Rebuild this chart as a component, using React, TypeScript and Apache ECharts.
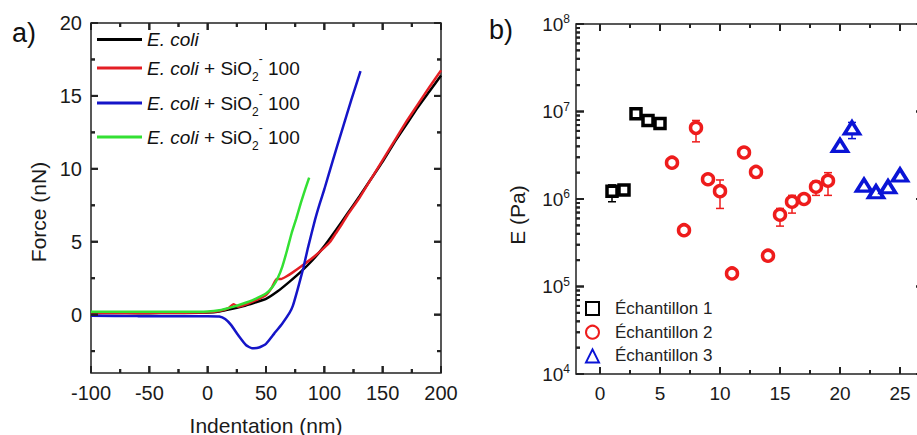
import React, { useEffect, useRef } from "react";
import * as echarts from "echarts";

// ---------- Panel a: force curves ----------
const ecoliX = [-100, -80, -60, -40, -20, 0, 10, 20, 30, 40, 50, 60, 70, 80, 90, 100, 110, 120, 130, 140, 150, 160, 170, 180, 190, 200];
const ecoliF = [0.1, 0.12, 0.1, 0.11, 0.12, 0.15, 0.22, 0.38, 0.58, 0.82, 1.08, 1.6, 2.25, 2.95, 3.75, 4.7, 5.8, 6.95, 8.1, 9.3, 10.5, 11.8, 13.0, 14.2, 15.3, 16.4];

const redX = [-100, -60, -20, 0, 10, 18, 22, 26, 30, 40, 50, 55, 59, 63, 67, 72, 80, 90, 100, 105, 110, 115, 120, 130, 140, 150, 160, 170, 180, 190, 200];
const redF = [0.12, 0.12, 0.13, 0.16, 0.25, 0.45, 0.72, 0.55, 0.62, 0.95, 1.35, 1.85, 2.45, 2.45, 2.6, 2.85, 3.3, 3.9, 4.6, 5.0, 5.6, 6.2, 6.85, 8.0, 9.3, 10.6, 11.9, 13.2, 14.4, 15.6, 16.75];

const blueX = [-100, -60, -20, 0, 10, 15, 20, 27, 33, 38, 44, 50, 57, 64, 70, 73, 77, 82, 86, 92, 96, 100, 107, 115, 123, 131];
const blueF = [-0.08, -0.1, -0.1, -0.1, -0.12, -0.3, -0.7, -1.5, -2.1, -2.3, -2.25, -2.0, -1.3, -0.6, 0.1, 0.6, 1.7, 3.2, 4.6, 6.5, 7.6, 8.6, 10.5, 12.6, 14.7, 16.7];

const greenX = [-100, -60, -20, 0, 10, 20, 30, 40, 50, 56, 60, 64, 68, 72, 76, 80, 84, 87];
const greenF = [0.2, 0.2, 0.2, 0.22, 0.3, 0.5, 0.75, 1.05, 1.45, 1.95, 2.5, 3.3, 4.4, 5.6, 6.6, 7.7, 8.7, 9.4];

const aXRange = [-100, 200];
const aYRange = [-4, 20];
const aXMajor = [-100, -50, 0, 50, 100, 150, 200];
const aXMinor = [-75, -25, 25, 75, 125, 175];
const aYMajor = [0, 5, 10, 15, 20];
const aYMinor = [-2.5, 2.5, 7.5, 12.5, 17.5];

// ---------- Panel b: moduli ----------
const sample1X = [1, 2, 3, 4, 5];
const sample1E = [1.23e6, 1.27e6, 9.4e6, 7.9e6, 7.3e6];
const sample1Err = [[1, 9.3e5, 1.45e6], [5, 6.8e6, 7.7e6]];

const sample2X = [6, 7, 8, 9, 10, 11, 12, 13, 14, 15, 16, 17, 18, 19];
const sample2E = [2.6e6, 4.4e5, 6.5e6, 1.68e6, 1.23e6, 1.41e5, 3.4e6, 2.04e6, 2.25e5, 6.6e5, 9.3e5, 1.0e6, 1.38e6, 1.62e6];
const sample2Err = [[8, 4.5e6, 7.9e6], [9, 1.5e6, 1.85e6], [10, 7.8e5, 1.65e6], [12, 3.0e6, 3.7e6], [13, 1.75e6, 2.2e6], [15, 4.9e5, 7.8e5], [16, 6.9e5, 1.1e6], [18, 1.1e6, 1.6e6], [19, 1.1e6, 2.0e6]];

const sample3X = [20, 21, 22, 23, 24, 25];
const sample3E = [4.1e6, 6.5e6, 1.44e6, 1.21e6, 1.38e6, 1.88e6];
const sample3Err = [[21, 4.9e6, 7.5e6]];

const bXRange = [-2, 27];
const bYRange = [1e4, 1e8];
const bXMajor = [0, 5, 10, 15, 20, 25];
const bXMinor = [2.5, 7.5, 12.5, 17.5, 22.5];
const bYMajor = [1e4, 1e5, 1e6, 1e7, 1e8];
const bYMinor = [
  2e4, 3e4, 4e4, 5e4, 6e4, 7e4, 8e4, 9e4,
  2e5, 3e5, 4e5, 5e5, 6e5, 7e5, 8e5, 9e5,
  2e6, 3e6, 4e6, 5e6, 6e6, 7e6, 8e6, 9e6,
  2e7, 3e7, 4e7, 5e7, 6e7, 7e7, 8e7, 9e7,
];

const legendNamesA = ["ec0", "ec1", "ec2", "ec3"];
const sampleNames = ["Échantillon 1", "Échantillon 2", "Échantillon 3"];

const FONT = "Liberation Sans, Arial, sans-serif";
const AX = "#222222";
const C_BLACK = "#000000";
const C_RED = "#e41e24";
const C_BLUE = "#1515c8";
const C_GREEN = "#33e033";
const M_RED = "#ee1c1c";
const M_BLUE = "#0a14d6";

const zip = (xs: number[], ys: number[]) => xs.map((x, i) => [x, ys[i]]);

function App() {
  const ref = useRef<HTMLDivElement>(null);
  useEffect(() => {
    if (!ref.current) return;
    const chart = echarts.init(ref.current, null, { renderer: "svg" });

    // inward ticks drawn by a custom series, positions from the axis scales
    const tickSeries = (idx: number, dir: "x" | "y", values: number[], xr: number[], yr: number[], len: number) => ({
      type: "custom",
      xAxisIndex: idx,
      yAxisIndex: idx,
      silent: true,
      z: 6,
      encode: { x: 0, y: 1 },
      data: values.map((v) => (dir === "x" ? [v, yr[0]] : [xr[0], v])),
      renderItem: (_params: any, api: any) => {
        const st = { stroke: AX, lineWidth: 2 };
        if (dir === "x") {
          const v = api.value(0);
          const b = api.coord([v, yr[0]]);
          const t = api.coord([v, yr[1]]);
          return {
            type: "group",
            children: [
              { type: "line", shape: { x1: b[0], y1: b[1], x2: b[0], y2: b[1] - len }, style: st },
              { type: "line", shape: { x1: t[0], y1: t[1], x2: t[0], y2: t[1] + len }, style: st },
            ],
          };
        }
        const v = api.value(1);
        const l = api.coord([xr[0], v]);
        const r = api.coord([xr[1], v]);
        return {
          type: "group",
          children: [
            { type: "line", shape: { x1: l[0], y1: l[1], x2: l[0] + len, y2: l[1] }, style: st },
            { type: "line", shape: { x1: r[0], y1: r[1], x2: r[0] - len, y2: r[1] }, style: st },
          ],
        };
      },
    });

    const legendRich = {
      i: { fontStyle: "italic", fontSize: 19, lineHeight: 30, fontFamily: FONT, color: "#111" },
      n: { fontSize: 19, lineHeight: 30, fontFamily: FONT, color: "#111" },
      sub: { fontSize: 12, lineHeight: 12, verticalAlign: "bottom", fontFamily: FONT, color: "#111" },
      sup: { fontSize: 12, lineHeight: 20, verticalAlign: "top", fontFamily: FONT, color: "#111" },
    };
    const legendFormatter = (name: string) =>
      name === "ec0" ? "{i|E. coli}" : "{i|E. coli}{n| + SiO}{sub|2}{sup|-}{n| 100}";
    const legendTops = [30, 53, 88, 122];
    const legendsA = legendNamesA.map((nm, i) => ({
      data: [{ name: nm, icon: "rect" }],
      left: 97,
      top: legendTops[i],
      padding: 0,
      itemWidth: 45,
      itemHeight: 3,
      selectedMode: false,
      formatter: legendFormatter,
      textStyle: { rich: legendRich, fontFamily: FONT, fontSize: 19 },
    }));

    const errSeries = (data: number[][], color: string) => ({
      type: "custom",
      xAxisIndex: 1,
      yAxisIndex: 1,
      silent: true,
      z: 2,
      encode: { x: 0, y: [1, 2] },
      data,
      renderItem: (_p: any, api: any) => {
        const x = api.value(0);
        const lo = api.coord([x, api.value(1)]);
        const hi = api.coord([x, api.value(2)]);
        const w = 4;
        const st = { stroke: color, lineWidth: 1.5 };
        return {
          type: "group",
          children: [
            { type: "line", shape: { x1: lo[0], y1: lo[1], x2: hi[0], y2: hi[1] }, style: st },
            { type: "line", shape: { x1: lo[0] - w, y1: lo[1], x2: lo[0] + w, y2: lo[1] }, style: st },
            { type: "line", shape: { x1: hi[0] - w, y1: hi[1], x2: hi[0] + w, y2: hi[1] }, style: st },
          ],
        };
      },
    });

    const lineSeries = (name: string, xs: number[], ys: number[], color: string) => ({
      name,
      type: "line",
      xAxisIndex: 0,
      yAxisIndex: 0,
      data: zip(xs, ys),
      showSymbol: false,
      smooth: 0.15,
      color,
      lineStyle: { color, width: 2.5 },
      itemStyle: { color },
      z: 3,
    });

    const scatterSeries = (name: string, xs: number[], ys: number[], color: string, symbol: string, size: any) => ({
      name,
      type: "scatter",
      xAxisIndex: 1,
      yAxisIndex: 1,
      data: zip(xs, ys),
      symbol,
      symbolSize: size,
      itemStyle: { color: "#ffffff", borderColor: color, borderWidth: 3.5, opacity: 1 },
      z: 4,
    });

    const gridStyle = { show: true, borderColor: AX, borderWidth: 1.5, backgroundColor: "transparent", containLabel: false };

    const texts: any[] = [
      { type: "text", x: 12, y: 33, style: { text: "a)", fontSize: 27, fontFamily: FONT, fill: "#111", align: "left", verticalAlign: "middle" } },
      { type: "text", x: 489, y: 30, style: { text: "b)", fontSize: 27, fontFamily: FONT, fill: "#111", align: "left", verticalAlign: "middle" } },
      { type: "text", x: 38, y: 212, rotation: Math.PI / 2, style: { text: "Force (nN)", fontSize: 21, fontFamily: FONT, fill: "#1a1a1a", align: "center", verticalAlign: "middle" } },
      { type: "text", x: 266, y: 425, style: { text: "Indentation (nm)", fontSize: 21, fontFamily: FONT, fill: "#1a1a1a", align: "center", verticalAlign: "middle" } },
      { type: "text", x: 517, y: 215, rotation: Math.PI / 2, style: { text: "E (Pa)", fontSize: 21, fontFamily: FONT, fill: "#1a1a1a", align: "center", verticalAlign: "middle" } },
    ];

    const option: any = {
      animation: false,
      backgroundColor: "#ffffff",
      textStyle: { fontFamily: FONT },
      grid: [
        { left: 91, top: 23, width: 350, height: 350, ...gridStyle },
        { left: 576, top: 24, width: 348, height: 350, ...gridStyle },
      ],
      legend: [
        ...legendsA,
        {
          data: sampleNames,
          orient: "vertical",
          left: 585,
          top: 300,
          padding: 0,
          itemGap: 6.7,
          itemWidth: 13,
          itemHeight: 13,
          selectedMode: false,
          textStyle: { fontSize: 17, lineHeight: 17, fontFamily: FONT, color: "#222", padding: [0, 0, 0, 11] },
        },
      ],
      xAxis: [
        {
          gridIndex: 0, type: "value", position: "bottom", min: aXRange[0], max: aXRange[1], interval: 50,
          axisLine: { show: false, onZero: false }, axisTick: { show: false }, splitLine: { show: false },
          axisLabel: { show: true, fontSize: 20, color: "#1a1a1a", margin: 10, fontFamily: FONT },
        },
        {
          gridIndex: 1, type: "value", position: "bottom", min: bXRange[0], max: bXRange[1],
          axisLine: { show: false, onZero: false }, axisTick: { show: false }, splitLine: { show: false },
          axisLabel: { show: true, customValues: bXMajor, fontSize: 19, color: "#1a1a1a", margin: 10, fontFamily: FONT },
        },
      ],
      yAxis: [
        {
          gridIndex: 0, type: "value", position: "left", min: aYRange[0], max: aYRange[1],
          axisLine: { show: false, onZero: false }, axisTick: { show: false }, splitLine: { show: false },
          axisLabel: { show: true, customValues: aYMajor, fontSize: 20, color: "#1a1a1a", margin: 9, fontFamily: FONT },
        },
        {
          gridIndex: 1, type: "log", logBase: 10, position: "left", min: bYRange[0], max: bYRange[1],
          axisLine: { show: false, onZero: false }, axisTick: { show: false }, splitLine: { show: false },
          axisLabel: {
            show: true, customValues: bYMajor, margin: 6, color: "#1a1a1a", fontFamily: FONT,
            formatter: (v: number) => `{b|10}{e|${Math.round(Math.log10(v))}}`,
            rich: {
              b: { fontSize: 19, lineHeight: 22, fontFamily: FONT, color: "#1a1a1a" },
              e: { fontSize: 12, lineHeight: 12, verticalAlign: "top", fontFamily: FONT, color: "#1a1a1a" },
            },
          },
        },
      ],
      graphic: texts,
      series: [
        lineSeries("ec0", ecoliX, ecoliF, C_BLACK),
        lineSeries("ec1", redX, redF, C_RED),
        lineSeries("ec2", blueX, blueF, C_BLUE),
        lineSeries("ec3", greenX, greenF, C_GREEN),
        errSeries(sample1Err, C_BLACK),
        errSeries(sample2Err, M_RED),
        errSeries(sample3Err, M_BLUE),
        scatterSeries(sampleNames[0], sample1X, sample1E, C_BLACK, "rect", 10),
        scatterSeries(sampleNames[1], sample2X, sample2E, M_RED, "circle", 11),
        scatterSeries(sampleNames[2], sample3X, sample3E, M_BLUE, "triangle", [15, 12]),
        tickSeries(0, "x", aXMajor, aXRange, aYRange, 7),
        tickSeries(0, "x", aXMinor, aXRange, aYRange, 4),
        tickSeries(0, "y", aYMajor, aXRange, aYRange, 7),
        tickSeries(0, "y", aYMinor, aXRange, aYRange, 4),
        tickSeries(1, "x", bXMajor, bXRange, bYRange, 7),
        tickSeries(1, "x", bXMinor, bXRange, bYRange, 4),
        tickSeries(1, "y", bYMajor, bXRange, bYRange, 8),
        tickSeries(1, "y", bYMinor, bXRange, bYRange, 4),
      ],
    };
    chart.setOption(option);

    // the same ticks again as graphic lines, placed with the chart's own conversion
    const tickLines: any[] = [];
    const seg = (x1: number, y1: number, x2: number, y2: number) =>
      tickLines.push({ type: "line", silent: true, z: 50, shape: { x1, y1, x2, y2 }, style: { stroke: AX, lineWidth: 2 } });
    const px = (g: number, v: number[]) => chart.convertToPixel({ gridIndex: g } as any, v) as any as number[];
    const addX = (g: number, values: number[], yr: number[], len: number) =>
      values.forEach((v) => {
        const b = px(g, [v, yr[0]]);
        const t = px(g, [v, yr[1]]);
        if (!b || !t) return;
        seg(b[0], b[1], b[0], b[1] - len);
        seg(t[0], t[1], t[0], t[1] + len);
      });
    const addY = (g: number, values: number[], xr: number[], len: number) =>
      values.forEach((v) => {
        const l = px(g, [xr[0], v]);
        const r = px(g, [xr[1], v]);
        if (!l || !r) return;
        seg(l[0], l[1], l[0] + len, l[1]);
        seg(r[0], r[1], r[0] - len, r[1]);
      });
    addX(0, aXMajor, aYRange, 7);
    addX(0, aXMinor, aYRange, 4);
    addY(0, aYMajor, aXRange, 7);
    addY(0, aYMinor, aXRange, 4);
    addX(1, bXMajor, bYRange, 7);
    addX(1, bXMinor, bYRange, 4);
    addY(1, bYMajor, bXRange, 8);
    addY(1, bYMinor, bXRange, 4);
    chart.setOption({ graphic: [...texts, ...tickLines] });

    return () => chart.dispose();
  }, []);

  return (
    <div style={{ position: "fixed", left: 0, top: 0, width: 917, height: 435, overflow: "hidden", background: "#fff" }}>
      <div ref={ref} style={{ width: 960, height: 435 }} />
    </div>
  );
}

export default App;
